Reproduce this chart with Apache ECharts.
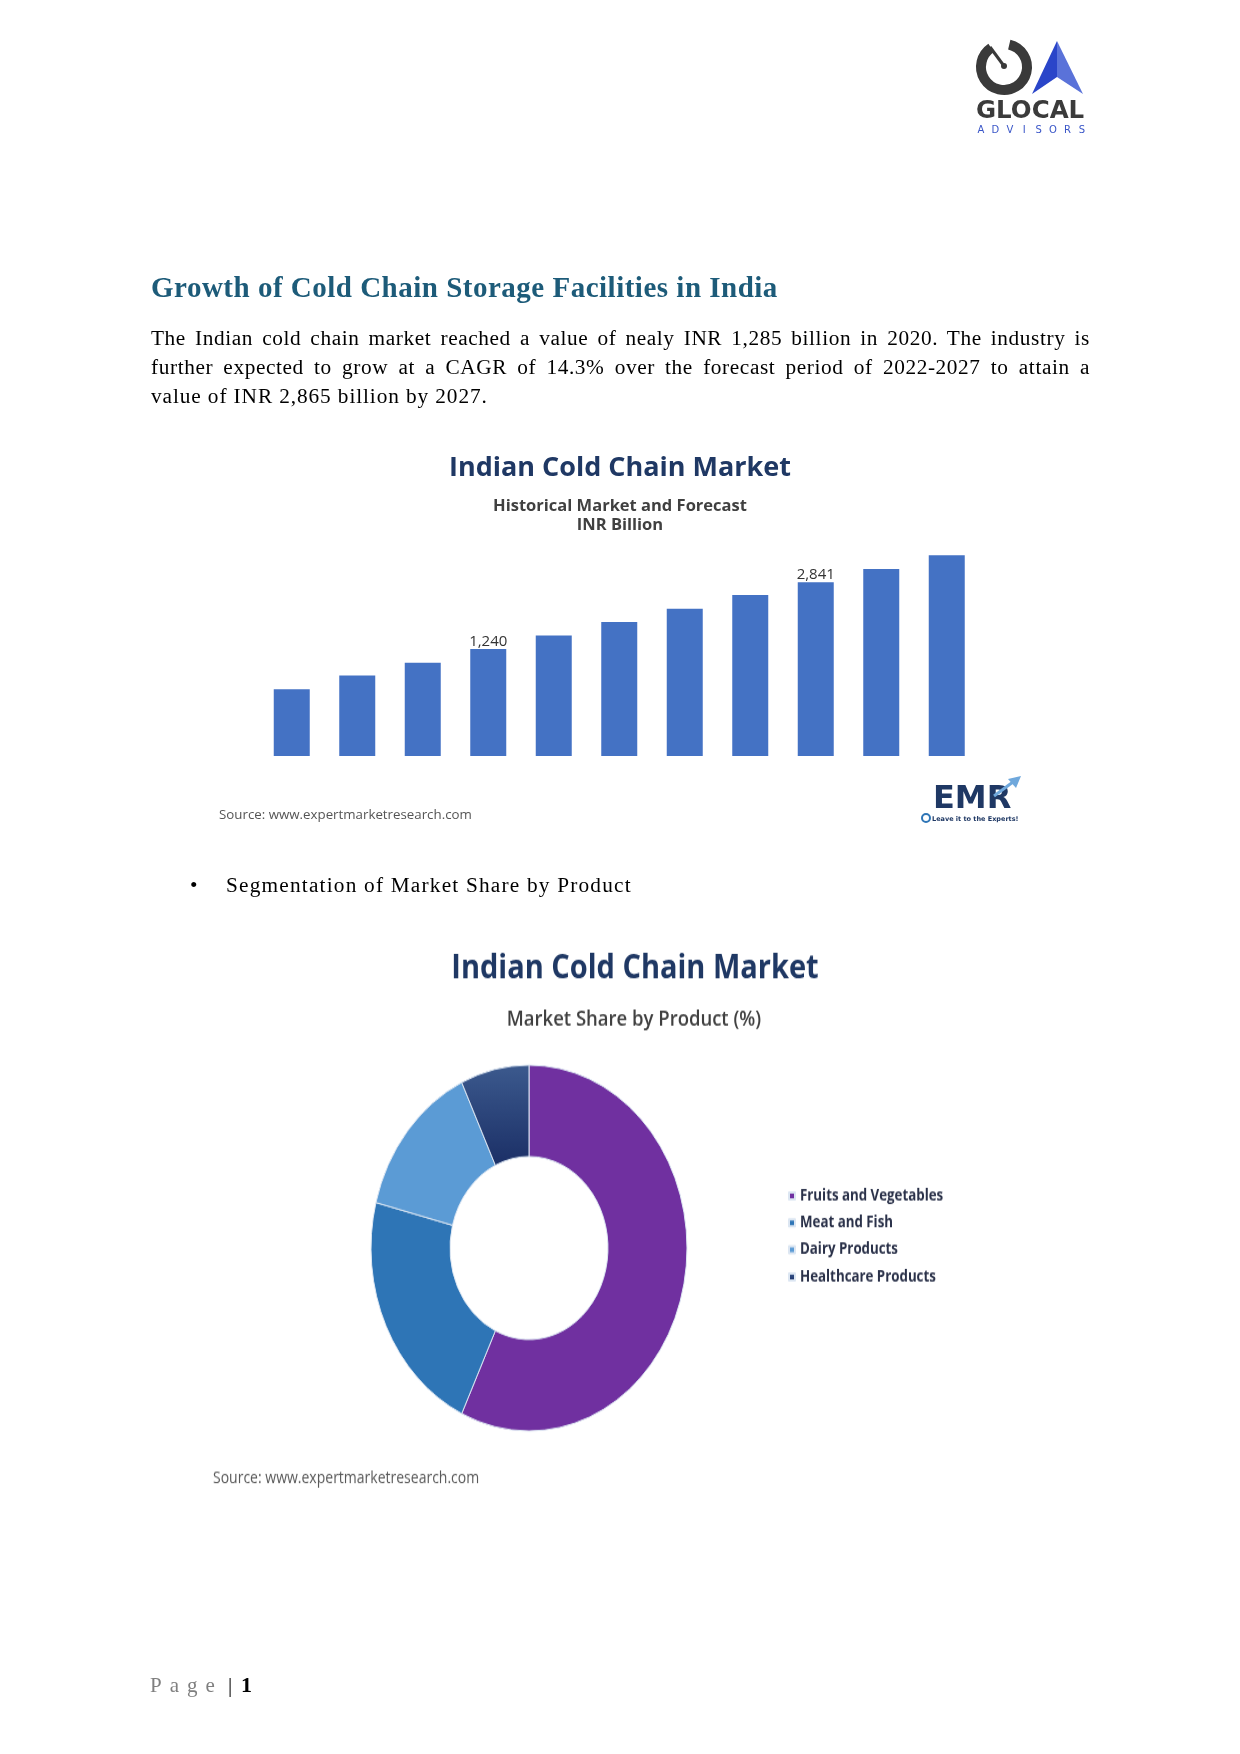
<!DOCTYPE html>
<html>
<head>
<meta charset="utf-8">
<script src="https://cdn.jsdelivr.net/npm/echarts@6/dist/echarts.min.js"></script>
<style>
html,body{margin:0;padding:0;background:#fff;}
#page{position:relative;width:1240px;height:1754px;overflow:hidden;background:#fff;}
#main{position:absolute;left:0;top:0;width:1240px;height:1754px;}
#pie{position:absolute;left:0;top:940px;width:1240px;height:520px;transform:scaleY(1.158);transform-origin:0 0;}
.txt{position:absolute;font-family:"Liberation Serif","Times New Roman",serif;color:#000;white-space:nowrap;}
#heading{left:151px;top:271px;font-size:29px;line-height:32px;font-weight:bold;color:#1d5b79;letter-spacing:0.5px;}
#para{left:151px;top:324px;width:939px;font-size:21.3px;line-height:29px;letter-spacing:0.6px;}
#para span{display:block;white-space:nowrap;text-align:justify;text-align-last:justify;}
#para span.last{text-align:left;text-align-last:left;letter-spacing:0.9px;}
#bullet{left:190px;top:871px;font-size:21.3px;line-height:28.5px;}
#bulletText{left:226px;top:871px;font-size:21.3px;line-height:28.5px;letter-spacing:1.2px;}
.foot{top:1671px;font-size:21px;line-height:28px;}
</style>
</head>
<body>
<div id="page">
  <div id="main"></div>
  <div id="pie"></div>
  <div class="txt" id="heading">Growth of Cold Chain Storage Facilities in India</div>
  <div class="txt" id="para">
    <span>The Indian cold chain market reached a value of nealy INR 1,285 billion in 2020. The industry is</span>
    <span>further expected to grow at a CAGR of 14.3% over the forecast period of 2022-2027 to attain a</span>
    <span class="last">value of INR 2,865 billion by 2027.</span>
  </div>
  <div class="txt" id="bullet">•</div>
  <div class="txt" id="bulletText">Segmentation of Market Share by Product</div>
  <div class="txt foot" style="left:150px;color:#7f7f7f;letter-spacing:8px;">Page</div>
  <div class="txt foot" style="left:228px;">|</div>
  <div class="txt foot" style="left:241px;font-weight:bold;font-size:22px;">1</div>
</div>
<script>
// ---------- data ----------
const years = ['2017','2018','2019','2020','2021','2022','2023','2024','2025','2026','2027'];
const marketValues = [270, 600, 910, 1240, 1560, 1885, 2205, 2535, 2841, 3160, 3490];
const labelledYears = ['2020', '2025'];

const productNames = ['Fruits and Vegetables', 'Meat and Fish', 'Dairy Products', 'Healthcare Products'];
const productShares = [57, 22, 14, 7];

// ---------- main chart (bar + page graphics) ----------
const main = echarts.init(document.getElementById('main'), null, {renderer: 'canvas'});
const advLetters = 'ADVISORS'.split('');

const mainGraphic = [
  // GLOCAL logo
  {type: 'arc', shape: {cx: 1004, cy: 67, r: 23, startAngle: -1.34, endAngle: 4.12, clockwise: true},
   style: {stroke: '#3a3a3a', lineWidth: 10, fill: null}},
  {type: 'line', shape: {x1: 990, y1: 47, x2: 1004, y2: 66}, style: {stroke: '#3a3a3a', lineWidth: 3}},
  {type: 'circle', shape: {cx: 1004, cy: 66, r: 3}, style: {fill: '#3a3a3a'}},
  {type: 'polygon', shape: {points: [[1057, 41], [1057, 77], [1032, 94]]}, style: {fill: '#2a45c9'}},
  {type: 'polygon', shape: {points: [[1057, 41], [1083, 94], [1057, 77]]}, style: {fill: '#5a72d9'}},
  {type: 'text', style: {x: 976, y: 112, text: 'GLOCAL', font: 'bold 24.5px "DejaVu Sans"', fill: '#3b3b3b', textAlign: 'left', textVerticalAlign: 'middle'}},
  // bar chart titles
  {type: 'text', style: {x: 620, y: 468, text: 'Indian Cold Chain Market', font: 'bold 27px "Open Sans"', fill: '#1F3864', textAlign: 'center', textVerticalAlign: 'middle'}},
  {type: 'text', style: {x: 620, y: 506, text: 'Historical Market and Forecast', font: 'bold 16.5px "Open Sans"', fill: '#404040', textAlign: 'center', textVerticalAlign: 'middle'}},
  {type: 'text', style: {x: 620, y: 525, text: 'INR Billion', font: 'bold 16.5px "Open Sans"', fill: '#404040', textAlign: 'center', textVerticalAlign: 'middle'}},
  {type: 'text', style: {x: 219, y: 815, text: 'Source: www.expertmarketresearch.com', font: '13.3px "Open Sans"', fill: '#555555', textAlign: 'left', textVerticalAlign: 'middle'}},
  // EMR logo
  {type: 'text', style: {x: 933, y: 800, text: 'EMR', font: 'bold 32px "DejaVu Sans"', fill: '#1F3864', textAlign: 'left', textVerticalAlign: 'middle'}},
  {type: 'text', style: {x: 932, y: 819, text: 'Leave it to the Experts!', font: 'bold 6.5px "DejaVu Sans"', fill: '#1F3864', textAlign: 'left', textVerticalAlign: 'middle'}},
  {type: 'circle', shape: {cx: 926, cy: 818, r: 4}, style: {stroke: '#2E75B6', lineWidth: 2, fill: '#fff'}},
  {type: 'line', shape: {x1: 994, y1: 796, x2: 1013, y2: 782}, style: {stroke: '#6fa8dc', lineWidth: 3}},
  {type: 'polygon', shape: {points: [[1021, 776], [1008, 779], [1016, 788]]}, style: {fill: '#6fa8dc'}}
].concat(advLetters.map((ch, i) => ({
  type: 'text',
  style: {x: 981 + i * 14.4, y: 130, text: ch, font: '10px "DejaVu Sans"', fill: '#3a56c8', textAlign: 'center', textVerticalAlign: 'middle'}
})));

main.setOption({
  animation: false,
  grid: {left: 259, top: 517.25, width: 720.5, height: 238.75, containLabel: false},
  xAxis: {type: 'category', data: years, show: false},
  yAxis: {type: 'value', min: -1330, max: 4400, startValue: -1330, show: false, splitLine: {show: false}},
  series: [{
    type: 'bar',
    barWidth: 36,
    data: marketValues.map((v, i) => ({value: v, label: {show: labelledYears.includes(years[i])}})),
    itemStyle: {color: '#4472C4'},
    label: {
      position: 'top', distance: 0,
      formatter: p => p.value.toLocaleString('en-US'),
      fontFamily: 'Open Sans', fontSize: 15, color: '#333'
    }
  }],
  graphic: mainGraphic
});

// ---------- pie chart ----------
const pie = echarts.init(document.getElementById('pie'), null, {renderer: 'canvas'});
const productColors = [
  '#7030A0',
  '#2E75B6',
  '#5B9BD5',
  {type: 'linear', x: 0, y: 0, x2: 0, y2: 1, colorStops: [{offset: 0, color: '#3c5a8e'}, {offset: 1, color: '#1b2f66'}]}
];
pie.setOption({
  animation: false,
  legend: {
    orient: 'vertical', left: 783, top: 208,
    itemWidth: 6, itemHeight: 6, itemGap: 7.3, icon: 'rect',
    textStyle: {fontFamily: 'Open Sans', fontWeight: 'bold', fontSize: 13.3, color: '#2a3149', lineHeight: 16},
    data: productNames
  },
  series: [{
    type: 'pie',
    center: [529, 266],
    radius: [79, 158],
    startAngle: 90,
    clockwise: true,
    label: {show: false},
    labelLine: {show: false},
    itemStyle: {borderColor: '#dce6f2', borderWidth: 1},
    data: productNames.map((n, i) => ({name: n, value: productShares[i], itemStyle: {color: productColors[i]}}))
  }],
  graphic: [
    {type: 'text', style: {x: 635, y: 25, text: 'Indian Cold Chain Market', font: 'bold 29px "Open Sans"', fill: '#1F3864', textAlign: 'center', textVerticalAlign: 'middle'}},
    {type: 'text', style: {x: 634, y: 69, text: 'Market Share by Product (%)', font: '600 18.5px "Open Sans"', fill: '#404040', textAlign: 'center', textVerticalAlign: 'middle'}},
    {type: 'text', style: {x: 213, y: 464.6, text: 'Source: www.expertmarketresearch.com', font: '14px "Open Sans"', fill: '#595959', textAlign: 'left', textVerticalAlign: 'middle'}}
  ]
});
</script>
</body>
</html>
